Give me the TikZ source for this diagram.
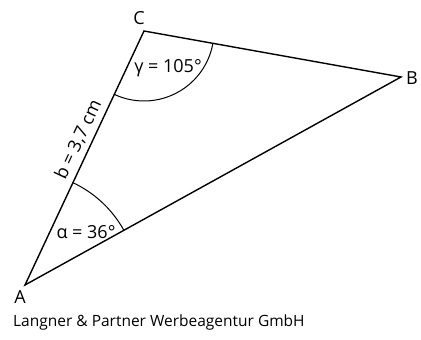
\documentclass[tikz,border=0pt]{standalone}
\usepackage{fontspec}
\setmainfont{Open Sans}
\usetikzlibrary{angles, positioning}

\begin{document}
\begin{tikzpicture}[
    x=1pt, y=1pt,
    edge/.style={line width=1.4pt, line cap=round, line join=miter},
    vertex/.style={font=\fontsize{18}{20}\selectfont, inner sep=1pt},
    label/.style={font=\fontsize{18}{20}\selectfont, inner sep=1pt}
]
    \useasboundingbox (0,0) rectangle (421,340);

    \coordinate (A) at (25,55);
    \coordinate (B) at (401,263);
    \coordinate (C) at (144,309);

    % angle arcs
    \pic[draw, line width=1pt, angle radius=113pt] {angle = B--A--C};
    \pic[draw, line width=1pt, angle radius=70pt]  {angle = A--C--B};

    \draw[edge] (A) -- (B) -- (C) -- cycle;

    \node[vertex] (lblC) at (139,322) {C};
    \node[vertex] (lblB) at (412,262) {B};
    \node[vertex] (lblA) at (20,43)   {A};

    \node[label] (gamma) at (168,272) {γ = 105°};
    \node[label] (alpha) at (86,108)  {α = 36°};
    \path (A) -- (C) node[label, pos=0.55, sloped, anchor=south, yshift=4pt] (side) {b = 3,7 cm};

    \node[anchor=base west, font=\fontsize{15.5}{18}\selectfont, inner sep=0pt] (credit) at (13,13)
        {Langner \& Partner Werbeagentur GmbH};
\end{tikzpicture}
\end{document}
